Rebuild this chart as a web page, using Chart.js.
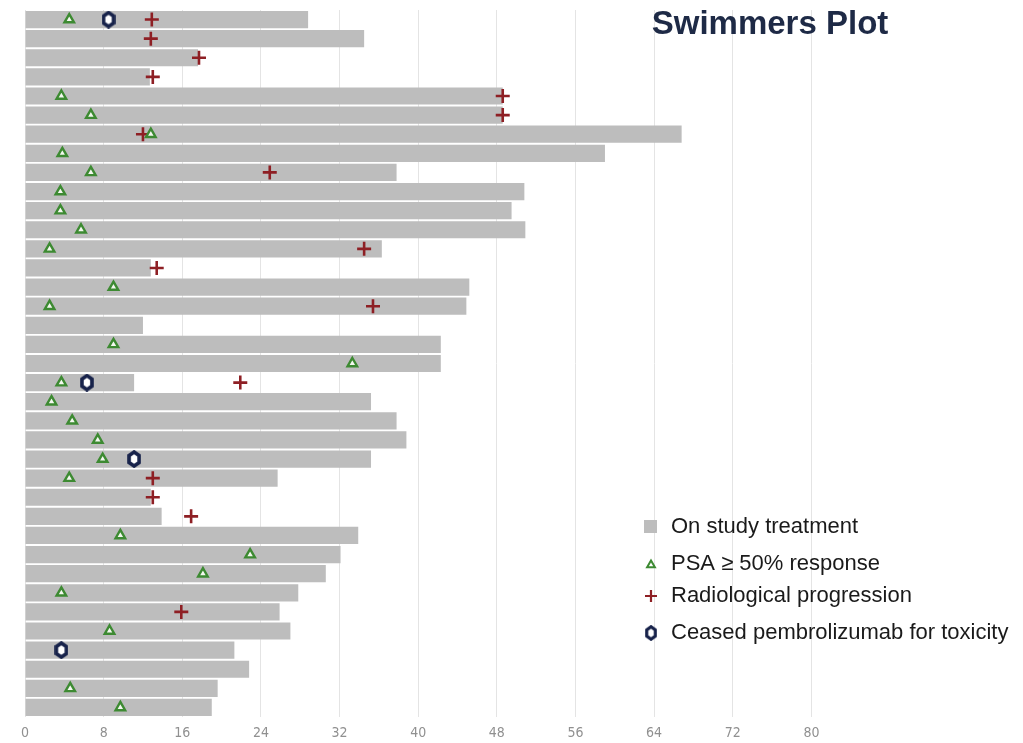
<!DOCTYPE html>
<html>
<head>
<meta charset="utf-8">
<title>Swimmers Plot</title>
<script src="https://cdn.jsdelivr.net/npm/chart.js@4/dist/chart.umd.min.js"></script>
<style>
  html, body { margin: 0; padding: 0; background: #ffffff; }
  #wrap { position: relative; width: 1023px; height: 743px; }
</style>
</head>
<body>
<div id="wrap"><canvas id="chart" width="1023" height="743"></canvas></div>
<script>
// Months on study, one entry per patient (top to bottom)
const patients = Array.from({ length: 37 }, (_, i) => 'Patient ' + (i + 1));
const treatmentMonths = [
  28.8, 34.5, 17.6, 12.7, 48.6, 48.6, 66.8, 59.0, 37.8, 50.8,
  49.5, 50.9, 36.3, 12.8, 45.2, 44.9, 12.0, 42.3, 42.3, 11.1,
  35.2, 37.8, 38.8, 35.2, 25.7, 12.8, 13.9, 33.9, 32.1, 30.6,
  27.8, 25.9, 27.0, 21.3, 22.8, 19.6, 19.0
];
// Month of PSA >= 50% response (null = none)
const psaResponse = [
  4.5, null, null, null, 3.7, 6.7, 12.8, 3.8, 6.7, 3.6,
  3.6, 5.7, 2.5, null, 9.0, 2.5, null, 9.0, 33.3, 3.7,
  2.7, 4.8, 7.4, 7.9, 4.5, null, null, 9.7, 22.9, 18.1,
  3.7, null, 8.6, null, null, 4.6, 9.7
];
// Month of radiological progression (null = none)
const radiologicalProgression = [
  12.9, 12.8, 17.7, 13.0, 48.6, 48.6, 12.0, null, 24.9, null,
  null, null, 34.5, 13.4, null, 35.4, null, null, null, 21.9,
  null, null, null, null, 13.0, 13.0, 16.9, null, null, null,
  null, 15.9, null, null, null, null, null
];
// Month pembrolizumab was ceased for toxicity (null = none)
const ceasedToxicity = [
  8.5, null, null, null, null, null, null, null, null, null,
  null, null, null, null, null, null, null, null, null, 6.3,
  null, null, null, 11.1, null, null, null, null, null, null,
  null, null, null, 3.7, null, null, null
];
const xTicks = [0, 8, 16, 24, 32, 40, 48, 56, 64, 72, 80];

const COL_BAR = '#bdbdbd';
const COL_PSA = '#3d8a32';
const COL_RAD = '#8e1f24';
const COL_TOX = '#17224a';

// Event markers sit on the row of their patient
function toPoints(arr) {
  const pts = [];
  arr.forEach((v, i) => { if (v !== null) pts.push({ x: v, y: patients[i] }); });
  return pts;
}

// Ring marker used for "ceased for toxicity"
function ringImage() {
  const c = document.createElement('canvas');
  c.width = 14; c.height = 18;
  const g = c.getContext('2d');
  g.fillStyle = '#ffffff';
  g.strokeStyle = COL_TOX;
  g.lineWidth = 3.6;
  g.beginPath();
  g.moveTo(7, 2); g.lineTo(12, 5.5); g.lineTo(12, 12.5);
  g.lineTo(7, 16); g.lineTo(2, 12.5); g.lineTo(2, 5.5); g.closePath();
  g.fill(); g.stroke();
  return c;
}
const ring = ringImage();

const legendItems = [
  { text: 'On study treatment', style: 'rect', color: COL_BAR },
  { text: 'PSA \u2265 50% response', style: 'triangle', color: COL_PSA },
  { text: 'Radiological progression', style: 'cross', color: COL_RAD },
  { text: 'Ceased pembrolizumab for toxicity', style: 'ring', color: COL_TOX }
];

const overlay = {
  id: 'overlay',
  afterDraw(chart) {
    const ctx = chart.ctx;
    ctx.save();
    // title
    ctx.fillStyle = '#1e2a46';
    ctx.font = 'bold 33px "Liberation Sans", Arial, sans-serif';
    ctx.textAlign = 'center';
    ctx.textBaseline = 'middle';
    ctx.fillText('Swimmers Plot', 770, 25);
    // legend
    const ys = [527, 564, 596, 633];
    ctx.font = '22px "Liberation Sans", Arial, sans-serif';
    ctx.textAlign = 'left';
    legendItems.forEach((it, i) => {
      const y = ys[i], x = 651;
      if (it.style === 'rect') {
        ctx.fillStyle = it.color;
        ctx.fillRect(x - 7, y - 7, 13, 13);
      } else if (it.style === 'triangle') {
        ctx.fillStyle = '#ffffff';
        ctx.strokeStyle = it.color;
        ctx.lineWidth = 2;
        Chart.helpers.drawPoint(ctx, { pointStyle: 'triangle', radius: 4.5, borderWidth: 2, rotation: 0 }, x, y + 1);
      } else if (it.style === 'cross') {
        ctx.strokeStyle = it.color;
        ctx.lineWidth = 2.2;
        Chart.helpers.drawPoint(ctx, { pointStyle: 'cross', radius: 6, borderWidth: 2.2, rotation: 0 }, x, y);
      } else {
        ctx.drawImage(ring, x - 6, y - 8, 12, 16);
      }
      ctx.fillStyle = '#1a1a1a';
      ctx.fillText(it.text, 671, y);
    });
    ctx.restore();
  }
};

new Chart(document.getElementById('chart'), {
  type: 'bar',
  data: {
    labels: patients,
    datasets: [
      {
        type: 'scatter',
        label: 'Ceased pembrolizumab for toxicity',
        data: toPoints(ceasedToxicity),
        pointStyle: ring,
        order: 1
      },
      {
        type: 'scatter',
        label: 'PSA \u2265 50% response',
        data: toPoints(psaResponse),
        pointStyle: 'triangle',
        pointRadius: 5.5,
        pointBorderWidth: 2.4,
        pointBorderColor: COL_PSA,
        pointBackgroundColor: '#f4f8f0',
        order: 2
      },
      {
        type: 'scatter',
        label: 'Radiological progression',
        data: toPoints(radiologicalProgression),
        pointStyle: 'cross',
        pointRadius: 7,
        pointBorderWidth: 2.6,
        pointBorderColor: COL_RAD,
        order: 3
      },
      {
        label: 'On study treatment',
        data: treatmentMonths,
        backgroundColor: COL_BAR,
        barPercentage: 0.9,
        categoryPercentage: 1.0,
        order: 4
      }
    ]
  },
  options: {
    indexAxis: 'y',
    responsive: false,
    animation: false,
    layout: { padding: { left: 25, right: 15, top: 10, bottom: 0 } },
    plugins: {
      legend: { display: false },
      tooltip: { enabled: false },
      title: { display: false }
    },
    scales: {
      x: {
        type: 'linear',
        min: 0,
        max: 100,
        afterBuildTicks(axis) { axis.ticks = xTicks.map(v => ({ value: v })); },
        afterFit(axis) { axis.height = 26; },
        border: { display: false },
        grid: { color: '#e4e4e4', lineWidth: 1, drawTicks: false },
        ticks: {
          padding: 8,
          color: '#909090',
          font: { family: '"Liberation Sans Narrow", "DejaVu Sans Condensed", sans-serif', size: 14 }
        }
      },
      y: {
        type: 'category',
        display: false,
        offset: true,
        grid: { display: false }
      }
    }
  },
  plugins: [overlay]
});
</script>
</body>
</html>
